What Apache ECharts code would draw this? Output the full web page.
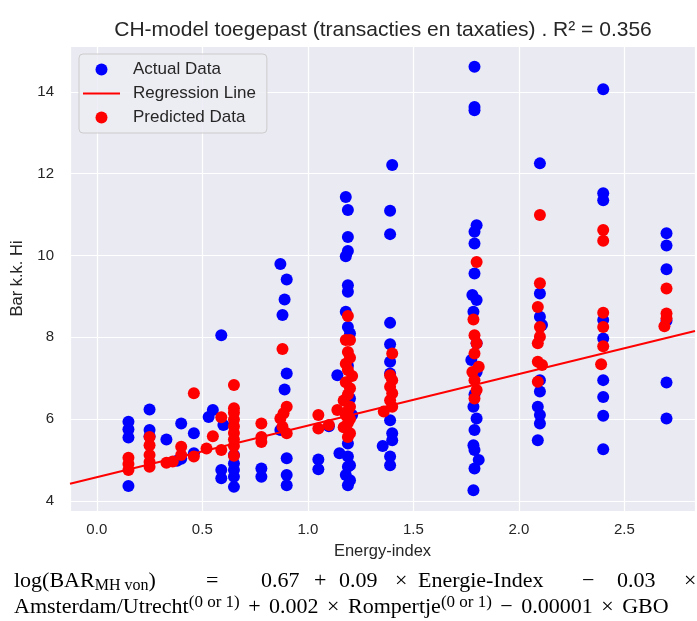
<!DOCTYPE html>
<html>
<head>
<meta charset="utf-8">
<script src="https://cdn.jsdelivr.net/npm/echarts@6/dist/echarts.min.js"></script>
<style>
  html, body { margin: 0; padding: 0; background: #ffffff; }
  #chart { width: 697px; height: 621px; }
</style>
</head>
<body>
<div id="chart"></div>
<script>
// Observed values (energy index, Bar k.k. Hi)
const actualEnergy = [
  0.15, 0.15, 0.15, 0.15,
  0.25, 0.25, 0.25,
  0.33, 0.38, 0.40, 0.40, 0.46, 0.46,
  0.53, 0.55, 0.59, 0.60, 0.59, 0.59,
  0.65, 0.65, 0.65, 0.65, 0.65,
  0.78, 0.78,
  0.87, 0.90, 0.89, 0.88, 0.90, 0.89, 0.87, 0.90, 0.90, 0.90,
  1.05, 1.05, 1.10,
  1.14, 1.18, 1.19, 1.19, 1.19, 1.18, 1.19, 1.19, 1.18, 1.19, 1.20, 1.19, 1.20, 1.21,
  1.19, 1.15, 1.19, 1.20, 1.19, 1.18, 1.20, 1.19,
  1.355, 1.40, 1.39, 1.39, 1.39, 1.39, 1.39, 1.39, 1.39, 1.40, 1.40, 1.39, 1.39,
  1.79, 1.79, 1.79, 1.80, 1.79, 1.79, 1.79, 1.78, 1.80, 1.785, 1.80, 1.775, 1.80, 1.79,
  1.785, 1.80, 1.79, 1.785, 1.79, 1.81, 1.79, 1.785,
  2.10, 2.10, 2.10, 2.11, 2.10, 2.10, 2.09, 2.10, 2.10, 2.09,
  2.40, 2.40, 2.40, 2.40, 2.40, 2.40, 2.40, 2.40, 2.40,
  2.70, 2.70, 2.70, 2.70, 2.70, 2.70
];
const actualBar = [
  5.93, 5.75, 5.55, 4.36,
  6.23, 5.73, 5.58,
  5.50, 4.98, 5.03, 5.89, 5.65, 5.16,
  6.05, 6.22, 8.05, 5.85, 4.75, 4.55,
  5.12, 4.91, 4.75, 4.59, 4.34,
  4.79, 4.59,
  9.79, 9.41, 8.92, 8.54, 7.11, 6.72, 5.73, 5.04, 4.63, 4.38,
  5.01, 4.77, 5.82,
  7.07, 11.43, 11.11, 10.45, 10.11, 9.98, 9.27, 9.11, 8.62, 8.25, 8.09, 7.30, 6.50, 6.10,
  5.40, 5.16, 5.08, 4.87, 4.83, 4.63, 4.50, 4.38,
  5.34, 12.21, 11.09, 10.52, 8.35, 7.83, 7.40, 7.11, 5.97, 5.65, 5.48, 5.08, 4.87,
  14.61, 13.63, 13.55, 10.74, 10.58, 10.29, 9.56, 9.03, 8.91, 8.62, 7.85, 7.44, 7.15, 6.60,
  6.30, 6.01, 5.73, 5.36, 5.24, 5.00, 4.79, 4.26,
  12.25, 9.07, 8.50, 8.30, 6.95, 6.67, 6.30, 6.10, 5.89, 5.48,
  14.06, 11.52, 11.35, 8.42, 7.97, 6.95, 6.54, 6.08, 5.26,
  10.54, 10.24, 9.66, 8.40, 6.89, 6.01
];

// Model predictions (energy index, predicted Bar k.k. Hi)
const predictedEnergy = [
  0.15, 0.15, 0.15,
  0.25, 0.25, 0.25, 0.25, 0.25,
  0.33, 0.36, 0.40, 0.40, 0.46, 0.46,
  0.52, 0.55, 0.59, 0.59,
  0.65, 0.65, 0.65, 0.65, 0.65, 0.65, 0.65, 0.65, 0.65,
  0.78, 0.78, 0.78,
  0.88, 0.90, 0.885, 0.87, 0.88, 0.90,
  1.05, 1.05, 1.10,
  1.19, 1.18, 1.20, 1.19, 1.20, 1.18, 1.19, 1.21, 1.18, 1.20, 1.19, 1.17, 1.20, 1.19,
  1.14, 1.18, 1.20, 1.19, 1.17, 1.20, 1.19,
  1.40, 1.39, 1.40, 1.39, 1.40, 1.39, 1.40, 1.36,
  1.80, 1.785, 1.79, 1.80, 1.79, 1.81, 1.78, 1.79, 1.80, 1.79,
  2.10, 2.10, 2.09, 2.10, 2.10, 2.09, 2.09, 2.11, 2.09,
  2.40, 2.40, 2.40, 2.40, 2.40, 2.39,
  2.70, 2.70, 2.70, 2.69
];
const predictedBar = [
  5.05, 4.90, 4.75,
  5.56, 5.36, 5.12, 4.95, 4.83,
  4.93, 4.96, 5.32, 5.12, 6.63, 5.08,
  5.28, 5.58, 6.04, 5.24,
  6.83, 6.26, 6.15, 5.99, 5.82, 5.66, 5.50, 5.34, 5.10,
  5.89, 5.56, 5.44,
  7.71, 6.30, 6.14, 6.01, 5.81, 5.65,
  6.10, 5.77, 5.85,
  8.52, 7.93, 7.93, 7.64, 7.50, 7.35, 7.20, 7.05, 6.90, 6.75, 6.60, 6.45, 6.30, 6.20,
  6.22, 6.10, 6.00, 5.90, 5.80, 5.65, 5.56,
  7.60, 7.07, 6.95, 6.79, 6.63, 6.46, 6.30, 6.18,
  9.84, 8.43, 8.05, 7.85, 7.60, 7.28, 7.15, 6.95, 6.71, 6.50,
  10.99, 9.32, 8.74, 8.25, 8.01, 7.85, 7.40, 7.32, 6.91,
  10.62, 10.36, 8.60, 8.25, 7.78, 7.34,
  9.19, 8.58, 8.46, 8.27
];

// Fitted line, evaluated at both ends of the energy axis
const regressionEnergy = [-0.127, 2.835];
const regressionBar = [4.414, 8.149];

const toPairs = (xs, ys) => xs.map((x, i) => [x, ys[i]]);

const sans = "'Liberation Sans', Arial, sans-serif";
const serif = "'Liberation Serif', 'Times New Roman', serif";
const textColor = '#262626';

const chart = echarts.init(document.getElementById('chart'), null, { renderer: 'canvas' });

const eqRich = {
  m: { fontFamily: serif, fontSize: 22, color: '#000000', lineHeight: 26 },
  op: { fontFamily: serif, fontSize: 22, color: '#000000', lineHeight: 26, padding: [0, 3, 0, 3] },
  sub: { fontFamily: serif, fontSize: 16, color: '#000000', lineHeight: 14, verticalAlign: 'bottom' },
  sup: { fontFamily: serif, fontSize: 17, color: '#000000', lineHeight: 17, verticalAlign: 'top' }
};

// First equation line is spread across the full width
const eqLine1 = [
  { x: 14, t: '{m|log(BAR}{sub|MH von}{m|)}' },
  { x: 206, t: '{m|=}' },
  { x: 261, t: '{m|0.67}' },
  { x: 314, t: '{m|+}' },
  { x: 339, t: '{m|0.09}' },
  { x: 395, t: '{m|×}' },
  { x: 418, t: '{m|Energie-Index}' },
  { x: 582, t: '{m|−}' },
  { x: 617, t: '{m|0.03}' },
  { x: 684, t: '{m|×}' }
];

const graphics = eqLine1.map(p => ({
  type: 'text', left: p.x, top: 570,
  style: { text: p.t, rich: eqRich }
}));
graphics.push({
  type: 'text', left: 14, top: 594,
  style: {
    text: '{m|Amsterdam/Utrecht}{sup|(0 or 1)}{op| + }{m|0.002}{op| × }{m|Rompertje}{sup|(0 or 1)}{op| − }{m|0.00001}{op| × }{m|GBO}',
    rich: eqRich
  }
});

chart.setOption({
  animation: false,
  backgroundColor: '#ffffff',
  title: {
    text: 'CH-model toegepast (transacties en taxaties) . R² = 0.356',
    left: 378, top: 15, textAlign: 'center',
    textStyle: { fontFamily: sans, fontSize: 21, fontWeight: 'normal', color: textColor }
  },
  legend: {
    orient: 'vertical', left: 79, top: 54,
    data: [
      { name: 'Actual Data', icon: 'circle' },
      { name: 'Regression Line', icon: 'path://M0,0H40V2.4H0Z' },
      { name: 'Predicted Data', icon: 'circle' }
    ],
    itemWidth: 37, itemHeight: 12, itemGap: 7,
    backgroundColor: 'rgba(236,236,243,0.85)',
    borderColor: '#cccccc', borderWidth: 1, borderRadius: 4,
    padding: [7, 11, 7, 4],
    textStyle: { fontFamily: sans, fontSize: 17, color: textColor, padding: [0, 0, 0, 8] }
  },
  grid: {
    left: 70, top: 46, right: 2, bottom: 110,
    show: true, backgroundColor: '#eaeaf2', borderWidth: 0
  },
  xAxis: {
    type: 'value', min: -0.127, max: 2.835, splitNumber: 5,
    name: 'Energy-index', nameLocation: 'middle', nameGap: 32,
    nameTextStyle: { fontFamily: sans, fontSize: 16.5, color: textColor },
    axisLine: { show: false }, axisTick: { show: false },
    axisLabel: {
      fontFamily: sans, fontSize: 15, color: textColor, margin: 11,
      showMinLabel: false, showMaxLabel: false,
      formatter: v => v.toFixed(1)
    },
    splitLine: { show: true, lineStyle: { color: '#ffffff', width: 1.2 } }
  },
  yAxis: {
    type: 'value', min: 3.75, max: 15.12, splitNumber: 6,
    name: 'Bar k.k. Hi', nameLocation: 'middle', nameGap: 39, nameRotate: 90,
    nameTextStyle: { fontFamily: sans, fontSize: 16.5, color: textColor },
    axisLine: { show: false }, axisTick: { show: false },
    axisLabel: {
      fontFamily: sans, fontSize: 15, color: textColor, margin: 16,
      showMinLabel: false, showMaxLabel: false,
      formatter: v => String(Math.round(v))
    },
    splitLine: { show: true, lineStyle: { color: '#ffffff', width: 1.2 } }
  },
  series: [
    {
      name: 'Actual Data', type: 'scatter', z: 2,
      symbolSize: 12, itemStyle: { color: '#0000ff', opacity: 1 },
      data: toPairs(actualEnergy, actualBar)
    },
    {
      name: 'Regression Line', type: 'line', z: 3,
      showSymbol: false, symbol: 'none',
      lineStyle: { color: '#ff0000', width: 2 }, itemStyle: { color: '#ff0000' },
      data: toPairs(regressionEnergy, regressionBar)
    },
    {
      name: 'Predicted Data', type: 'scatter', z: 4,
      symbolSize: 12, itemStyle: { color: '#ff0000', opacity: 1 },
      data: toPairs(predictedEnergy, predictedBar)
    }
  ],
  graphic: graphics
});
</script>
</body>
</html>
